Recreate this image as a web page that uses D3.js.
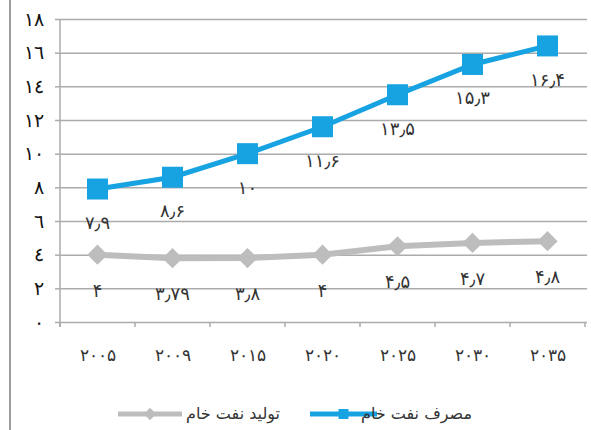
<!DOCTYPE html>
<html>
<head>
<meta charset="utf-8">
<script src="https://cdn.jsdelivr.net/npm/d3@7"></script>
<style>
  body { margin: 0; background: #fff; }
  svg { display: block; font-family: "DejaVu Sans", sans-serif; }
</style>
</head>
<body>
<div id="chart"></div>
<script>
const years = ['۲۰۰۵', '۲۰۰۹', '۲۰۱۵', '۲۰۲۰', '۲۰۲۵', '۲۰۳۰', '۲۰۳۵'];
const consumption = [7.9, 8.6, 10, 11.6, 13.5, 15.3, 16.4];
const production = [4, 3.79, 3.8, 4, 4.5, 4.7, 4.8];
const yTicks = [0, 2, 4, 6, 8, 10, 12, 14, 16, 18];
const seriesNames = ['مصرف نفت خام', 'تولید نفت خام'];

const width = 591;
const height = 430;
const margin = {top: 19, right: 6, bottom: 108, left: 60};
const blue = '#17a3e2';
const grey = '#bdbdbd';
const gridColor = '#ababab';

// persian digits for data labels, arabic-indic for the y axis
const fa = v => String(v).replace(/\d/g, d => '۰۱۲۳۴۵۶۷۸۹'[d]).replace('.', '٫');
const ar = v => String(v).replace(/\d/g, d => '٠١٢٣٤٥٦٧٨٩'[d]);

const svg = d3.select('#chart').append('svg')
  .attr('width', width)
  .attr('height', height);

// page border on the left
svg.append('line')
  .attr('x1', 10).attr('x2', 10)
  .attr('y1', 0).attr('y2', height)
  .attr('stroke', '#9c9c9c')
  .attr('stroke-width', 2);

const x = d3.scaleBand()
  .domain(years)
  .range([margin.left, width - margin.right]);

const y = d3.scaleLinear()
  .domain([0, 18])
  .range([height - margin.bottom, margin.top]);

// gridlines + y axis
const yAxis = svg.append('g')
  .attr('transform', `translate(${margin.left},0)`)
  .call(d3.axisLeft(y).tickValues(yTicks).tickSize(5).tickFormat(ar));
yAxis.select('.domain').remove();
yAxis.selectAll('.tick line').attr('stroke', gridColor).attr('stroke-width', 1.5);
yAxis.selectAll('.tick text')
  .attr('x', -16)
  .style('font-size', '19px')
  .attr('fill', '#111');
yAxis.selectAll('.tick').append('line')
  .attr('x1', 0)
  .attr('x2', width - margin.right - margin.left + 2)
  .attr('stroke', gridColor)
  .attr('stroke-width', 1.5);

svg.append('line')
  .attr('x1', margin.left).attr('x2', margin.left)
  .attr('y1', margin.top).attr('y2', y(0) + 5)
  .attr('stroke', gridColor)
  .attr('stroke-width', 1.5);

// x axis
const xAxis = svg.append('g')
  .attr('transform', `translate(0,${y(0)})`)
  .call(d3.axisBottom(x).tickSize(0).tickPadding(27));
xAxis.select('.domain').remove();
xAxis.selectAll('.tick text').style('font-size', '17px').attr('fill', '#333');
xAxis.selectAll('.edge')
  .data(d3.range(years.length + 1))
  .enter().append('line')
  .attr('x1', i => margin.left + i * x.step())
  .attr('x2', i => margin.left + i * x.step())
  .attr('y1', 0).attr('y2', 5)
  .attr('stroke', gridColor)
  .attr('stroke-width', 1.5);

const cx = d => x(d) + x.bandwidth() / 2;

const line = d3.line()
  .x((d, i) => cx(years[i]))
  .y(d => y(d));

// production (grey diamonds)
svg.append('path')
  .datum(production)
  .attr('fill', 'none')
  .attr('stroke', grey)
  .attr('stroke-width', 6)
  .attr('d', line);

svg.selectAll('.diamond')
  .data(production)
  .enter().append('path')
  .attr('class', 'diamond')
  .attr('transform', (d, i) => `translate(${cx(years[i])},${y(d)})`)
  .attr('d', d3.symbol(d3.symbolDiamond2, 260))
  .attr('fill', grey);

svg.selectAll('.plabel')
  .data(production)
  .enter().append('text')
  .attr('class', 'plabel')
  .attr('x', (d, i) => cx(years[i]))
  .attr('y', d => y(d) + 42)
  .attr('text-anchor', 'middle')
  .style('font-size', '18px')
  .attr('fill', '#333')
  .text(fa);

// consumption (blue squares)
svg.append('path')
  .datum(consumption)
  .attr('fill', 'none')
  .attr('stroke', blue)
  .attr('stroke-width', 5)
  .attr('d', line);

svg.selectAll('.square')
  .data(consumption)
  .enter().append('rect')
  .attr('class', 'square')
  .attr('x', (d, i) => cx(years[i]) - 10.5)
  .attr('y', d => y(d) - 10.5)
  .attr('width', 21)
  .attr('height', 21)
  .attr('fill', blue);

svg.selectAll('.clabel')
  .data(consumption)
  .enter().append('text')
  .attr('class', 'clabel')
  .attr('x', (d, i) => cx(years[i]))
  .attr('y', d => y(d) + 40)
  .attr('text-anchor', 'middle')
  .style('font-size', '18px')
  .attr('fill', '#333')
  .text(fa);

// legend
const legend = [
  {name: seriesNames[0], color: blue, x0: 310, x1: 377, text: 472, shape: 'square'},
  {name: seriesNames[1], color: grey, x0: 118, x1: 182, text: 280, shape: 'diamond'}
];
const ly = 414;
const lg = svg.selectAll('.legend')
  .data(legend)
  .enter().append('g')
  .attr('class', 'legend');
lg.append('line')
  .attr('x1', d => d.x0).attr('x2', d => d.x1)
  .attr('y1', ly).attr('y2', ly)
  .attr('stroke', d => d.color)
  .attr('stroke-width', 5);
lg.append('path')
  .attr('transform', d => `translate(${(d.x0 + d.x1) / 2},${ly})`)
  .attr('d', d => d3.symbol(d.shape === 'square' ? d3.symbolSquare : d3.symbolDiamond2, 100)())
  .attr('fill', d => d.color);
lg.append('text')
  .attr('x', d => d.text)
  .attr('y', ly + 5)
  .attr('text-anchor', 'end')
  .style('font-size', '16px')
  .attr('fill', '#333')
  .text(d => d.name);
</script>
</body>
</html>
